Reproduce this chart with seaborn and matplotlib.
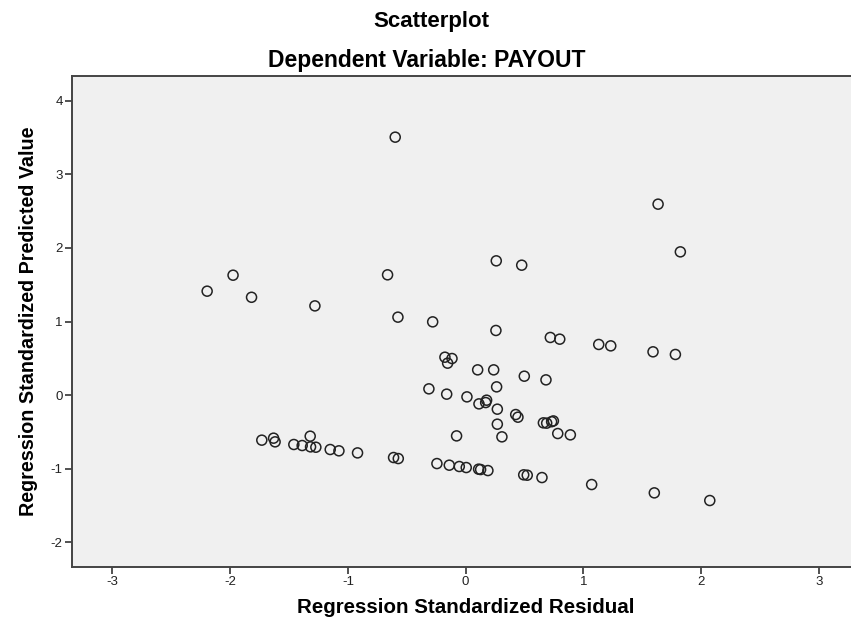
import matplotlib
matplotlib.use("Agg")
import matplotlib.pyplot as plt
import seaborn as sns
import pandas as pd

# Regression Standardized Residual (x) and Regression Standardized Predicted Value (y)
residual = [-0.598, 1.634, 1.823, 0.26, 0.476, -0.663, -1.975, -2.195, -1.818, -1.28,
            -0.575, -0.28, 0.257, 0.719, 0.799, 1.13, 1.232, 1.591, 1.781, -0.176,
            -0.116, -0.153, 0.102, 0.238, 0.498, 0.682, 0.263, -0.312, -0.161, 0.011,
            0.113, 0.17, 0.178, 0.269, 0.425, 0.444, 0.66, 0.688, 0.73, 0.745,
            0.269, 0.782, 0.889, 0.308, -0.077, -1.32, -1.731, -1.631, -1.618, -1.459,
            -1.388, -1.317, -1.272, -1.15, -1.076, -0.918, -0.612, -0.572, -0.244, -0.139,
            -0.054, 0.005, 0.11, 0.127, 0.189, 0.493, 0.523, 0.648, 1.07, 1.602, 2.073]
predicted = [3.505, 2.595, 1.947, 1.825, 1.766, 1.635, 1.63, 1.413, 1.33, 1.213,
             1.06, 0.996, 0.879, 0.784, 0.761, 0.689, 0.67, 0.589, 0.553, 0.516,
             0.498, 0.435, 0.344, 0.344, 0.258, 0.208, 0.113, 0.086, 0.014, -0.023,
             -0.118, -0.1, -0.068, -0.19, -0.263, -0.299, -0.376, -0.38, -0.36, -0.35,
             -0.394, -0.521, -0.539, -0.566, -0.553, -0.557, -0.611, -0.584, -0.634, -0.67,
             -0.684, -0.702, -0.707, -0.738, -0.756, -0.784, -0.847, -0.861, -0.929, -0.951,
             -0.969, -0.983, -1.005, -1.01, -1.024, -1.082, -1.087, -1.119, -1.214, -1.327, -1.431]
x_ticks = [-3, -2, -1, 0, 1, 2, 3]
y_ticks = [-2, -1, 0, 1, 2, 3, 4]

df = pd.DataFrame({"resid": residual, "pred": predicted})

sns.set_style("white")
plt.rcParams['font.family'] = ['Liberation Sans', 'DejaVu Sans']
plt.rcParams['text.color'] = 'black'
plt.rcParams['axes.labelcolor'] = 'black'

fig = plt.figure(figsize=(8.51, 6.27), dpi=100)
ax = fig.add_axes([72.3 / 851, 1 - 566.7 / 627, (859 - 72.3) / 851, (566.7 - 75.7) / 627])
ax.set_facecolor("#F0F0F0")

sns.scatterplot(data=df, x="resid", y="pred", ax=ax, s=52,
                facecolors="none", edgecolor="#222222", linewidth=1.1, marker="o")

ax.set_xlim(-3.34, 3.34)
ax.set_ylim(-2.33, 4.34)
ax.set_xticks(x_ticks)
ax.set_yticks(y_ticks)
ax.set_xticklabels([str(t) for t in x_ticks])
ax.set_yticklabels([str(t) for t in y_ticks])
ax.tick_params(axis="both", direction="out", length=5, width=1.2, color="#333333",
               labelsize=9.5, labelcolor="#222222", pad=2,
               bottom=True, left=True, top=False, right=False)
for name, sp in ax.spines.items():
    sp.set_color("#444444")
    sp.set_linewidth(1.4)

ax.set_xlabel("Regression Standardized Residual", fontsize=14.8, fontweight="bold",
              labelpad=7, color="black")
ax.set_ylabel("Regression Standardized Predicted Value", fontsize=14.2, fontweight="bold",
              labelpad=9, color="black")

fig.text(431 / 851, 1 - 21 / 627, "Scatterplot", ha="center", va="center",
         fontsize=16, fontweight="bold", color="black")
fig.text(427 / 851, 1 - 60 / 627, "Dependent Variable: PAYOUT", ha="center", va="center",
         fontsize=16.5, fontweight="bold", color="black")

fig.savefig("out.png", dpi=100)
